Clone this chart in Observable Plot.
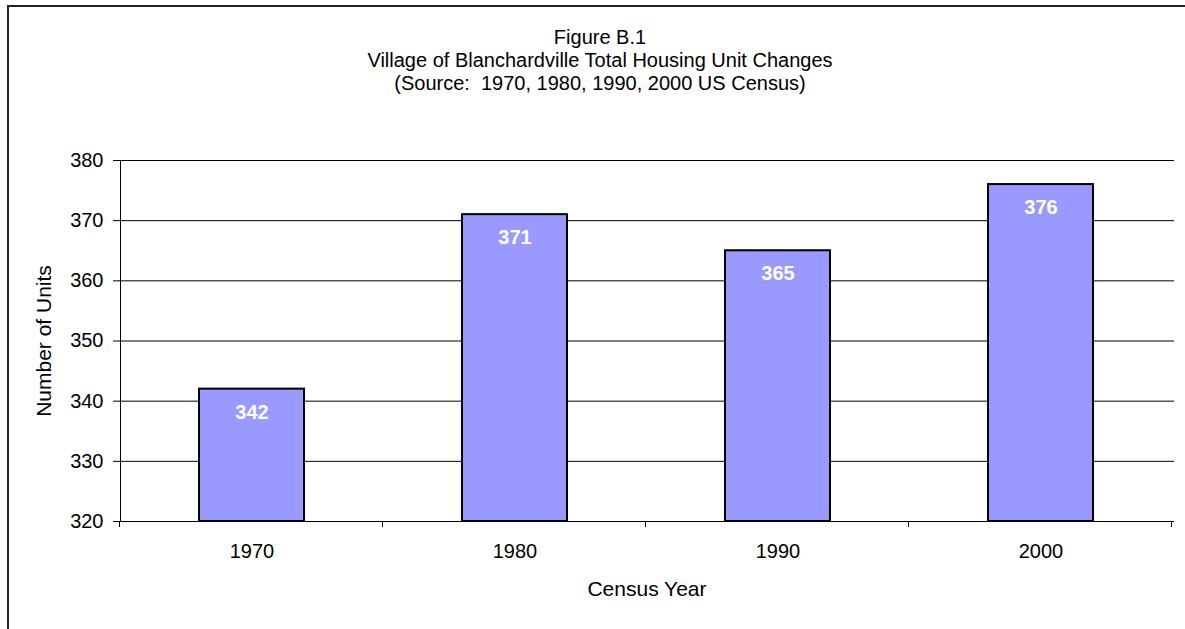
<!DOCTYPE html>
<html>
<head>
<meta charset="utf-8">
<script src="https://cdn.jsdelivr.net/npm/d3@7"></script>
<script src="https://cdn.jsdelivr.net/npm/@observablehq/plot@0.6"></script>
<style>
  html, body { margin: 0; padding: 0; overflow: hidden; background: #fff; width: 1185px; height: 629px; }
  body { font-family: "Liberation Sans", Arial, Helvetica, sans-serif; color: #000; position: relative; }
  #frame { position: absolute; left: 7px; top: 5px; width: 1300px; height: 800px; border: 2px solid #222; box-sizing: border-box; pointer-events: none; }
  #title { position: absolute; left: 7px; top: 26px; width: 1186px; text-align: center; font-size: 20px; line-height: 23px; }
  #chart { position: absolute; left: 0; top: 100px; }
</style>
</head>
<body>
<div id="frame"></div>
<div id="title"></div>
<div id="chart"></div>
<script>
const titleLines = ["Figure B.1", "Village of Blanchardville Total Housing Unit Changes", "(Source:  1970, 1980, 1990, 2000 US Census)"];
const years = ["1970", "1980", "1990", "2000"];
const units = [342, 371, 365, 376];
const yTicks = [320, 330, 340, 350, 360, 370, 380];
const xLabel = "Census Year";
const yLabel = "Number of Units";

const data = years.map((year, i) => ({year, units: units[i]}));

document.getElementById("title").innerHTML = titleLines.map(t => `<div style="white-space:pre">${t}</div>`).join("");

function boundaryLines(index, scales, values, dims) {
  const x = scales.x;
  const bw = typeof x.bandwidth === "function" ? x.bandwidth() : x.bandwidth;
  const step = x(years[1]) - x(years[0]);
  const gap = step - bw;
  const bounds = years.map(y => x(y) - gap / 2).concat([x(years[years.length - 1]) + bw + gap / 2]);
  const y0 = dims.height - dims.marginBottom;
  const g = d3.create("svg:g").attr("stroke", "#000").attr("stroke-width", 1).attr("shape-rendering", "crispEdges");
  g.selectAll("line.tick").data(bounds).join("line")
    .attr("x1", d => Math.round(d) - 0.5).attr("x2", d => Math.round(d) - 0.5)
    .attr("y1", y0).attr("y2", y0 + 6);
  g.append("line")
    .attr("x1", Math.round(bounds[0]) + 0.5).attr("x2", Math.round(bounds[0]) + 0.5)
    .attr("y1", dims.marginTop).attr("y2", y0);
  return g.node();
}

const chart = Plot.plot({
  width: 1185,
  height: 529,
  marginTop: 60,
  marginBottom: 108,
  marginLeft: 119,
  marginRight: 11,
  style: {fontFamily: '"Liberation Sans", Arial, Helvetica, sans-serif', fontSize: "20px", color: "#000", background: "transparent"},
  x: {domain: years, paddingInner: 0.6, paddingOuter: 0.3, label: null},
  y: {domain: [yTicks[0], yTicks[yTicks.length - 1]], label: null},
  marks: [
    Plot.ruleY(yTicks, {stroke: "#000", strokeWidth: 1}),
    Plot.barY(data, {x: "year", y1: () => yTicks[0], y2: "units", fill: "#9999FF", stroke: "#000", strokeWidth: 2}),
    Plot.text(data, {x: "year", y: "units", text: d => String(d.units), dy: 23, fill: "#fff", fontWeight: "bold", fontSize: 20}),
    Plot.axisY({ticks: yTicks, tickSize: 6, tickPadding: 10, fontSize: 20, label: null}),
    Plot.axisX({tickSize: 0, tickPadding: 22, fontSize: 20, label: null}),
    Plot.text([yLabel], {frameAnchor: "left", textAnchor: "middle", lineAnchor: "middle", dx: -75, rotate: -90, fontSize: 21}),
    Plot.text([xLabel], {frameAnchor: "bottom", lineAnchor: "middle", dy: 68, fontSize: 21}),
    boundaryLines
  ]
});
document.getElementById("chart").appendChild(chart);
</script>
</body>
</html>
